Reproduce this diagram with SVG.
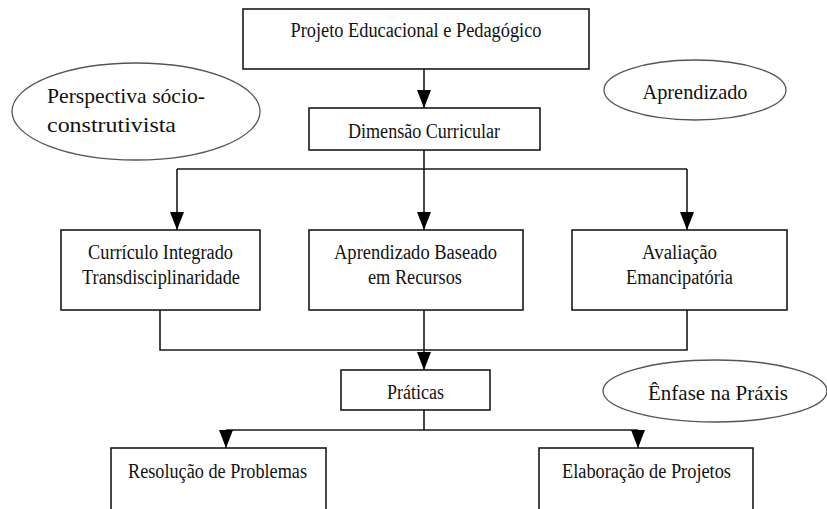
<svg xmlns="http://www.w3.org/2000/svg" width="827" height="509" viewBox="0 0 827 509">
<defs>
<marker id="ah" markerUnits="userSpaceOnUse" markerWidth="18" markerHeight="14" refX="18" refY="7" orient="auto" viewBox="0 0 18 14">
<path d="M0,0 L18,7 L0,14 Z" fill="#000"/>
</marker>
<style>
.box{fill:#fff;stroke:#1a1a1a;stroke-width:1.6}
.ell{fill:#fff;stroke:#555;stroke-width:1.3}
.ln{fill:none;stroke:#1a1a1a;stroke-width:1.6}
.ar{fill:none;stroke:#1a1a1a;stroke-width:1.6;marker-end:url(#ah)}
text{font-family:"Liberation Serif","Times New Roman",serif;font-size:20px;fill:#111}
.c{text-anchor:middle}
.big{font-size:22px}
</style>
</defs>
<rect width="827" height="509" fill="#fff"/>
<g id="connectors">
<path class="ar" d="M424,69 V108"/>
<path class="ln" d="M424,150 V169 M177,169 H687"/>
<path class="ar" d="M177,169 V230"/>
<path class="ar" d="M424,169 V230"/>
<path class="ar" d="M687,169 V230"/>
<path class="ln" d="M160,310 V350 H687 V310"/>
<path class="ar" d="M424,310 V370"/>
<path class="ln" d="M424,410 V430 M226,430 H638"/>
<path class="ar" d="M226,430 V448"/>
<path class="ar" d="M638,430 V448"/>
</g>
<g id="projeto">
<rect class="box" x="243" y="9" width="346" height="60"/>
<text class="c" x="416" y="37" textLength="251" lengthAdjust="spacingAndGlyphs">Projeto Educacional e Pedagógico</text>
</g>
<g id="perspectiva">
<ellipse class="ell" cx="136" cy="111.5" rx="124" ry="48.5"/>
<text class="big" x="47" y="103" textLength="158" lengthAdjust="spacingAndGlyphs">Perspectiva sócio-</text>
<text class="big" x="47" y="132" textLength="129" lengthAdjust="spacingAndGlyphs">construtivista</text>
</g>
<g id="aprendizado">
<ellipse class="ell" cx="695" cy="90" rx="91" ry="30"/>
<text class="big c" x="695" y="99" textLength="105" lengthAdjust="spacingAndGlyphs">Aprendizado</text>
</g>
<g id="dimensao">
<rect class="box" x="309" y="108" width="231" height="42"/>
<text class="c" x="424" y="138" textLength="152" lengthAdjust="spacingAndGlyphs">Dimensão Curricular</text>
</g>
<g id="curriculo">
<rect class="box" x="61" y="230" width="199" height="80"/>
<text class="c" x="160.5" y="259" textLength="145" lengthAdjust="spacingAndGlyphs">Currículo Integrado</text>
<text class="c" x="161" y="284" textLength="158" lengthAdjust="spacingAndGlyphs">Transdisciplinaridade</text>
</g>
<g id="aprendizado-baseado">
<rect class="box" x="309" y="230" width="214" height="80"/>
<text class="c" x="415.5" y="259" textLength="163" lengthAdjust="spacingAndGlyphs">Aprendizado Baseado</text>
<text class="c" x="415" y="284" textLength="94" lengthAdjust="spacingAndGlyphs">em Recursos</text>
</g>
<g id="avaliacao">
<rect class="box" x="572" y="230" width="215" height="80"/>
<text class="c" x="679.5" y="259" textLength="75" lengthAdjust="spacingAndGlyphs">Avaliação</text>
<text class="c" x="679.5" y="284" textLength="107" lengthAdjust="spacingAndGlyphs">Emancipatória</text>
</g>
<g id="praticas">
<rect class="box" x="341" y="370" width="149" height="40"/>
<text class="c" x="415.5" y="399" textLength="57" lengthAdjust="spacingAndGlyphs">Práticas</text>
</g>
<g id="enfase">
<ellipse class="ell" cx="715" cy="391" rx="112" ry="31"/>
<text class="big c" x="718" y="400" textLength="140" lengthAdjust="spacingAndGlyphs">Ênfase na Práxis</text>
</g>
<g id="resolucao">
<rect class="box" x="111" y="448" width="215" height="80"/>
<text class="c" x="217.5" y="478" textLength="179" lengthAdjust="spacingAndGlyphs">Resolução de Problemas</text>
</g>
<g id="elaboracao">
<rect class="box" x="539" y="448" width="214" height="80"/>
<text class="c" x="646.5" y="478" textLength="169" lengthAdjust="spacingAndGlyphs">Elaboração de Projetos</text>
</g>
</svg>
